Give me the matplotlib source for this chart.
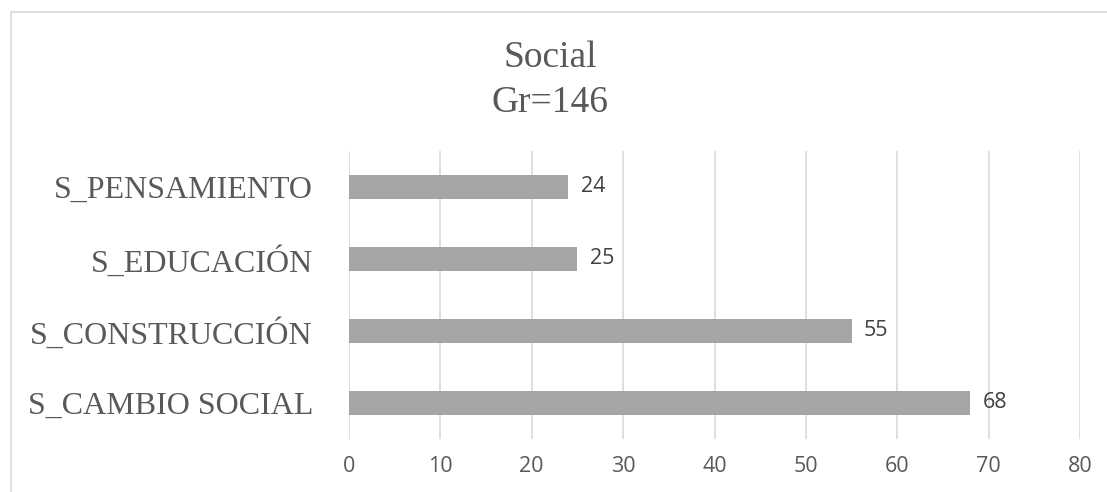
import matplotlib
matplotlib.use("Agg")
import matplotlib.pyplot as plt
from matplotlib.patches import Rectangle

categories = ["S_CAMBIO SOCIAL", "S_CONSTRUCCIÓN", "S_EDUCACIÓN", "S_PENSAMIENTO"]
values = [68, 55, 25, 24]
xticks = [0, 10, 20, 30, 40, 50, 60, 70, 80]

W, H = 1107, 492
fig = plt.figure(figsize=(W / 100, H / 100), dpi=100)
ax = fig.add_axes([349 / W, 53 / H, 731 / W, 288 / H])

sans = ["Open Sans", "DejaVu Sans"]
serif = ["Liberation Serif", "DejaVu Serif"]

ypos = list(range(len(categories)))
ax.barh(ypos, values, height=0.333, color="#a5a5a5", zorder=3)
for y, v in zip(ypos, values):
    ax.annotate(str(v), (v, y), xytext=(9, 0), textcoords="offset points",
                va="center", ha="left", fontsize=15.5, color="#404040",
                family=sans)

ax.set_xlim(0, 80)
ax.set_ylim(-0.5, len(categories) - 0.5)
ax.set_xticks(xticks)
ax.set_xticklabels([str(t) for t in xticks], fontsize=15.5, color="#595959",
                   family=sans)
ax.set_yticks(ypos)
ax.set_yticklabels(categories, fontsize=23, color="#595959", family=serif)
ax.tick_params(axis="both", length=0)
ax.tick_params(axis="y", pad=26)
ax.tick_params(axis="x", pad=12)
ax.grid(axis="x", color="#d9d9d9", linewidth=1.2, zorder=0)
for s in ax.spines.values():
    s.set_visible(False)

fig.text(550 / W, 1 - 67 / H, "Social", ha="center", va="baseline", fontsize=27,
         color="#595959", family=serif)
fig.text(550 / W, 1 - 112 / H, "Gr=146", ha="center", va="baseline", fontsize=27,
         color="#595959", family=serif)

fig.patches.append(Rectangle((11 / W, -0.1), 1.2, 1 - 12 / H + 0.1,
                             transform=fig.transFigure, fill=False,
                             edgecolor="#d9d9d9", linewidth=1.2))

fig.savefig("out.png", dpi=100)
